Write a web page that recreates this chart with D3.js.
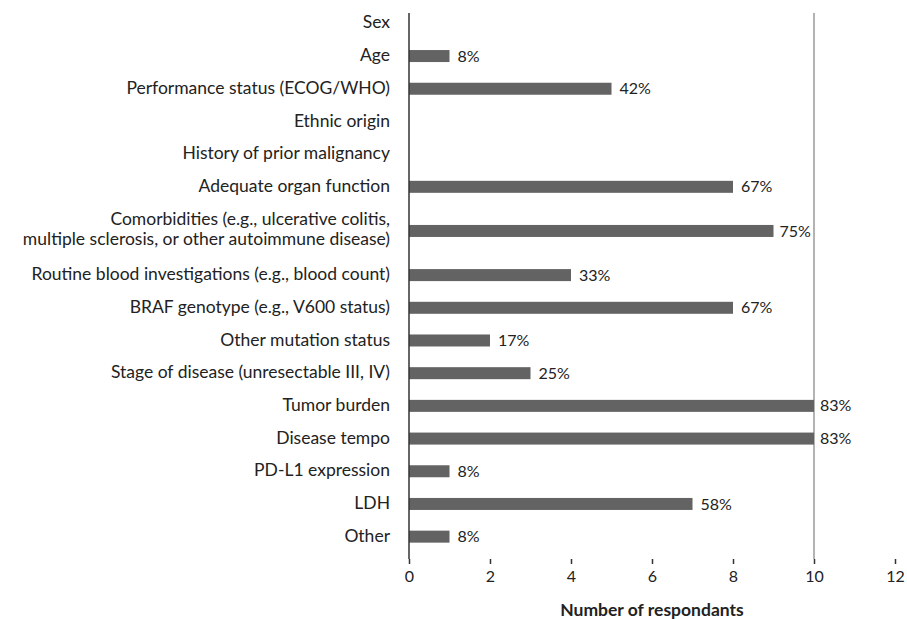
<!DOCTYPE html>
<html><head><meta charset="utf-8">
<script src="https://cdn.jsdelivr.net/npm/d3@7"></script>
<style>body{margin:0;background:#fff;}svg{display:block;}text{font-family:Lato,"Open Sans",sans-serif;fill:#222;}</style>
</head><body><svg id="c" width="907" height="619"></svg>
<script>
const categories = ["Sex","Age","Performance status (ECOG/WHO)","Ethnic origin","History of prior malignancy","Adequate organ function","Comorbidities (e.g., ulcerative colitis,\nmultiple sclerosis, or other autoimmune disease)","Routine blood investigations (e.g., blood count)","BRAF genotype (e.g., V600 status)","Other mutation status","Stage of disease (unresectable III, IV)","Tumor burden","Disease tempo","PD-L1 expression","LDH","Other"];
const counts = [0,1,5,0,0,8,9,4,8,2,3,10,10,1,7,1];
const percents = ["","8%","42%","","","67%","75%","33%","67%","17%","25%","83%","83%","8%","58%","8%"];
const xTicks = [0,2,4,6,8,10,12];
const refValue = 10;
const xTitle = "Number of respondants";

const svg = d3.select("#c");
const m = {left:409, right:12, top:13, bottom:60};
const W = 907, H = 619;
const x = d3.scaleLinear().domain([0,12]).range([m.left, W-m.right]);

// row weights from label line counts
const weights = categories.map(c => 1 + 0.7*(c.split("\n").length-1));
const total = d3.sum(weights);
const yUnit = d3.scaleLinear().domain([0,total]).range([7, H-m.bottom-6]);
const cum = d3.cumsum(weights);
const yc = i => yUnit(cum[i] - weights[i]/2);
const barH = 12;

// reference line
svg.append("line").attr("x1",x(refValue)).attr("x2",x(refValue)).attr("y1",m.top).attr("y2",H-m.bottom)
  .attr("stroke","#9a9a9a").attr("stroke-width",1.5);

// bars
svg.selectAll("rect.bar").data(counts).join("rect").attr("class","bar")
  .attr("x",x(0)).attr("y",(d,i)=>yc(i)-barH/2).attr("width",d=>x(d)-x(0)).attr("height",barH)
  .attr("fill","#636363");

// value labels
svg.selectAll("text.val").data(percents).join("text").attr("class","val")
  .attr("x",(d,i)=>x(counts[i])+ (counts[i]>=9?6:8)).attr("y",(d,i)=>yc(i)).attr("dy","0.35em")
  .attr("font-size",16).text(d=>d);

// category labels
categories.forEach((c,i)=>{
  const lines = c.split("\n");
  const t = svg.append("text").attr("text-anchor","end").attr("font-size",17.5);
  const lh = 20;
  lines.forEach((l,j)=>{
    t.append("tspan").attr("x",m.left-19).attr("y",yc(i)-2+(j-(lines.length-1)/2)*lh).attr("dy","0.35em").text(l);
  });
  if (lines.length===1) t.selectAll("tspan").attr("y",yc(i)-1);
});

// y axis line
svg.append("line").attr("x1",x(0)).attr("x2",x(0)).attr("y1",m.top).attr("y2",H-m.bottom)
  .attr("stroke","#333").attr("stroke-width",1.5);

// x axis
const xa = svg.append("g").attr("transform",`translate(0,${H-m.bottom})`)
  .call(d3.axisBottom(x).tickValues(xTicks).tickSize(5).tickPadding(7));
xa.select(".domain").remove();
xa.selectAll(".tick line").attr("stroke","#333").attr("stroke-width",1.5);
xa.selectAll(".tick text").attr("font-size",16).attr("font-family","Lato,'Open Sans',sans-serif").attr("fill","#222");

svg.append("text").attr("x",(x(0)+x(12))/2).attr("y",H-3).attr("text-anchor","middle")
  .attr("font-size",17.5).attr("font-weight","bold").text(xTitle);
</script></body></html>
